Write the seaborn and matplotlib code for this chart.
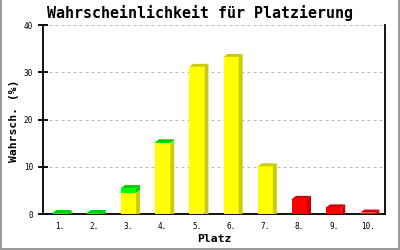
import matplotlib
matplotlib.use("Agg")
import matplotlib.pyplot as plt
from matplotlib.patches import Polygon
from matplotlib.lines import Line2D
import seaborn as sns
import numpy as np

# ---- data ----
places = ["1.", "2.", "3.", "4.", "5.", "6.", "7.", "8.", "9.", "10."]
red = [0, 0, 0, 0, 0, 0, 0, 3.2, 1.4, 0.3]
yellow = [0, 0, 4.5, 15.0, 31.2, 33.3, 10.1, 0, 0, 0]
green = [0.2, 0.2, 1.0, 0.2, 0, 0, 0, 0, 0, 0]
yticks = [0, 10, 20, 30, 40]

title = "Wahrscheinlichkeit für Platzierung"
xlabel = "Platz"
ylabel = "Wahrsch. (%)"

# ---- style ----
sns.set_theme(style="white")
plt.rcParams["font.family"] = ["DejaVu Sans Mono", "DejaVu Sans"]

fig = plt.figure(figsize=(4, 2.5), dpi=100)
fig.patch.set_facecolor("white")
ax = fig.add_axes([43 / 400, 1 - 214 / 250, (385 - 43) / 400, (214 - 25.3) / 250])
ax.set_facecolor("white")

layers = [  # bottom to top: (values, front, dark)
    (red, "#ff0000", "#cc0000"),
    (yellow, "#ffff00", "#cccc00"),
    (green, "#00ff00", "#00cc00"),
]
cums = []
run = np.zeros(len(places))
for vals, _, _ in layers:
    lo = run.copy()
    run = run + np.array(vals, dtype=float)
    cums.append((lo, run.copy()))

# draw the cumulative heights top layer first so lower layers cover them
n_layers = len(layers)
bar_patches = {}
for idx in reversed(range(n_layers)):
    vals, front, dark = layers[idx]
    n_before = len(ax.patches)
    sns.barplot(x=places, y=cums[idx][1], color=front, width=0.44,
                saturation=1, linewidth=0, ax=ax)
    new = ax.patches[n_before:]
    for p in new:
        p.set_zorder(3 + (n_layers - idx) * 0.01)
    bar_patches[idx] = new

ax.set_xlim(-0.5, len(places) - 0.5)
ax.set_ylim(0, 40)

# 3D depth: 4 px to the right, 3 px up, converted with the axes scales
inv = ax.transData.inverted()
p0 = inv.transform(ax.transData.transform((0, 0)))
p1 = inv.transform(ax.transData.transform((0, 0)) + np.array([4, 3]))
dx, dy = p1 - p0

total = run
for idx in range(n_layers):
    vals, front, dark = layers[idx]
    lo, hi = cums[idx]
    for i, patch in enumerate(bar_patches[idx]):
        if vals[i] <= 0:
            continue
        x0 = patch.get_x()
        x1 = x0 + patch.get_width()
        y0, y1 = lo[i], hi[i]
        if y0 == 0:
            side = [(x1, 0), (x1 + dx, 0), (x1 + dx, y1 + dy), (x1, y1)]
        else:
            side = [(x1, y0), (x1 + dx, y0 + dy), (x1 + dx, y1 + dy), (x1, y1)]
        ax.add_patch(Polygon(side, closed=True, facecolor=dark, edgecolor="none",
                             zorder=3.5, clip_on=False))
        if abs(y1 - total[i]) < 1e-9:
            top = [(x0, y1), (x0 + dx, y1 + dy), (x1 + dx, y1 + dy), (x1, y1)]
            ax.add_patch(Polygon(top, closed=True, facecolor=dark, edgecolor="none",
                                 zorder=3.6, clip_on=False))

# ---- axes decoration ----
ax.set_yticks(yticks)
ax.set_yticklabels([str(t) for t in yticks])
ax.yaxis.grid(True, linestyle=(0, (3, 3)), color="#bbbbbb", linewidth=0.72)
ax.xaxis.grid(False)
ax.set_axisbelow(True)

for s in ["left", "bottom", "right"]:
    ax.spines[s].set_visible(True)
    ax.spines[s].set_color("black")
    ax.spines[s].set_linewidth(1.3)
ax.spines["top"].set_visible(False)

ax.tick_params(axis="y", which="major", direction="inout", length=7.2, width=1.3,
               color="black", labelsize=5.5, pad=3.5, left=True, right=False)
ax.tick_params(axis="x", which="major", length=0, labelsize=5.5, pad=6, bottom=True)
for lab in ax.get_xticklabels() + ax.get_yticklabels():
    lab.set_color("black")

ax.set_xlabel("")
ax.set_ylabel("")
fig.text(214 / 400, 1 - 239 / 250, xlabel, ha="center", va="center",
         fontsize=8.2, fontweight="bold", color="black")
fig.text(13.5 / 400, 1 - 121 / 250, ylabel, ha="center", va="center", rotation=90,
         fontsize=8.2, fontweight="bold", color="black")
fig.text(200 / 400, 1 - 13 / 250, title, ha="center", va="center",
         fontsize=10.8, fontweight="bold", color="black")

# grey outer frame
for xs, ys in [([1 / 400, 1 / 400], [0, 1]), ([399 / 400, 399 / 400], [0, 1]),
               ([0, 1], [1 / 250, 1 / 250])]:
    fig.add_artist(Line2D(xs, ys, transform=fig.transFigure, color="#999999", linewidth=1.44))

fig.savefig("out.png", dpi=100, facecolor="white")
